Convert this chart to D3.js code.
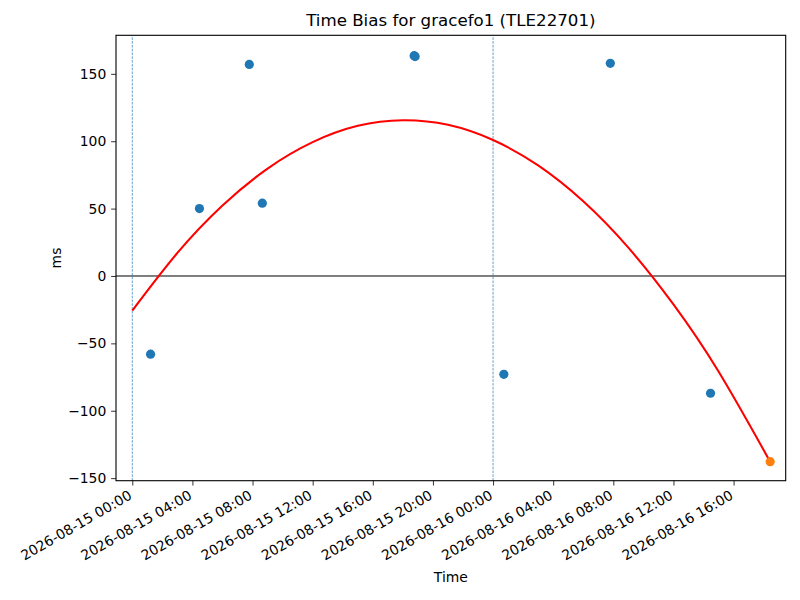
<!DOCTYPE html>
<html>
<head>
<meta charset="utf-8">
<script src="https://cdn.jsdelivr.net/npm/d3@7"></script>
<style>
  body { margin: 0; background: #fff; }
  svg, svg text { font-family: "DejaVu Sans", sans-serif; }
</style>
</head>
<body>
<div id="chart"></div>
<script>
// observed time bias samples (blue)
let obsTimes = ["2026-08-15 01:13", "2026-08-15 04:28", "2026-08-15 07:47", "2026-08-15 08:39",
    "2026-08-15 18:45", "2026-08-15 18:49", "2026-08-16 00:43", "2026-08-16 07:48", "2026-08-16 14:28"];
let obsValues = [-58, 50, 157, 54, 163.5, 162.8, -73, 157.8, -87];

// latest point (orange)
let lastTime = ["2026-08-16 18:26"];
let lastValue = [-137.8];

// fitted curve (red)
let fitTimes = ["2026-08-15 00:00", "2026-08-15 03:00", "2026-08-15 06:00", "2026-08-15 09:00",
    "2026-08-15 12:00", "2026-08-15 15:00", "2026-08-15 18:00", "2026-08-15 21:00",
    "2026-08-16 00:00", "2026-08-16 03:00", "2026-08-16 06:00", "2026-08-16 09:00",
    "2026-08-16 12:00", "2026-08-16 15:00", "2026-08-16 18:26"];
let fitValues = [-25.7, 17.1, 52.3, 79.7, 99.3, 111.4, 115.6, 112.2, 100.9, 82, 55.4, 21, -21.1, -70.9, -137.8];

// day boundaries (dashed)
let dayLines = ["2026-08-15 00:00", "2026-08-16 00:00"];

let xTicks = ["2026-08-15 00:00", "2026-08-15 04:00", "2026-08-15 08:00", "2026-08-15 12:00",
    "2026-08-15 16:00", "2026-08-15 20:00", "2026-08-16 00:00", "2026-08-16 04:00",
    "2026-08-16 08:00", "2026-08-16 12:00", "2026-08-16 16:00"];
let yTicks = [-150, -100, -50, 0, 50, 100, 150];

let width = 800;
let height = 600;
let margin = { left: 116, right: 14.3, top: 35.3, bottom: 119.3 };
let tickLen = 4.86;
let font = "DejaVu Sans, sans-serif";

let parseT = d3.utcParse("%Y-%m-%d %H:%M");
let fmtT = d3.utcFormat("%Y-%m-%d %H:%M");

let svg = d3.select("#chart").append("svg")
    .attr("width", width).attr("height", height);

let x = d3.scaleUtc()
    .domain([parseT("2026-08-14 22:55"), parseT("2026-08-16 19:28")])
    .range([margin.left, width - margin.right]);
let y = d3.scaleLinear()
    .domain([-151.9, 178.6])
    .range([height - margin.bottom, margin.top]);

let plot = svg.append("g");

// zero line
plot.append("line")
    .attr("x1", x.range()[0]).attr("x2", x.range()[1])
    .attr("y1", y(0)).attr("y2", y(0))
    .attr("stroke", "#000").attr("stroke-width", 1);

// dashed day lines
plot.selectAll(".day-line").data(dayLines).join("line")
    .attr("class", "day-line")
    .attr("x1", d => x(parseT(d))).attr("x2", d => x(parseT(d)))
    .attr("y1", y.range()[0]).attr("y2", y.range()[1])
    .attr("stroke", "#1f77b4").attr("stroke-width", 0.7)
    .attr("stroke-dasharray", "2.6,1.2");

// fitted curve
let fitData = fitTimes.map((t, i) => [parseT(t), fitValues[i]]);
plot.append("path")
    .datum(fitData)
    .attr("fill", "none")
    .attr("stroke", "#ff0000")
    .attr("stroke-width", 2.08)
    .attr("d", d3.line().x(d => x(d[0])).y(d => y(d[1])).curve(d3.curveNatural));

// points
plot.selectAll(".obs").data(obsTimes).join("circle")
    .attr("class", "obs")
    .attr("cx", d => x(parseT(d)))
    .attr("cy", (d, i) => y(obsValues[i]))
    .attr("r", 4.6)
    .attr("fill", "#1f77b4");

plot.selectAll(".last").data(lastTime).join("circle")
    .attr("class", "last")
    .attr("cx", d => x(parseT(d)))
    .attr("cy", (d, i) => y(lastValue[i]))
    .attr("r", 4.6)
    .attr("fill", "#ff7f0e");

// axes
let xAxis = svg.append("g")
    .attr("transform", `translate(0,${height - margin.bottom})`)
    .call(d3.axisBottom(x).tickValues(xTicks.map(parseT)).tickSize(tickLen).tickFormat(fmtT))
    .attr("font-family", font).attr("font-size", "13.9px");
xAxis.select(".domain").remove();
xAxis.selectAll(".tick line").attr("stroke", "#000").attr("stroke-width", 0.8);
xAxis.selectAll(".tick text")
    .attr("fill", "#000")
    .attr("text-anchor", "end")
    .attr("y", 0).attr("dy", 0)
    .attr("transform", "translate(0,17.5) rotate(-30)");

let yAxis = svg.append("g")
    .attr("transform", `translate(${margin.left},0)`)
    .call(d3.axisLeft(y).tickValues(yTicks).tickSize(tickLen).tickPadding(4.86)
        .tickFormat(d => d < 0 ? "\u2212" + Math.abs(d) : d))
    .attr("font-family", font).attr("font-size", "13.9px");
yAxis.select(".domain").remove();
yAxis.selectAll(".tick line").attr("stroke", "#000").attr("stroke-width", 0.8);
yAxis.selectAll(".tick text").attr("fill", "#000");

// frame
svg.append("rect")
    .attr("x", margin.left).attr("y", margin.top)
    .attr("width", width - margin.left - margin.right)
    .attr("height", height - margin.top - margin.bottom)
    .attr("fill", "none").attr("stroke", "#000").attr("stroke-width", 1.1);

// labels
let cx = (margin.left + width - margin.right) / 2;
svg.append("text")
    .attr("x", cx).attr("y", 26)
    .attr("text-anchor", "middle")
    .attr("font-size", "16.67px")
    .text("Time Bias for gracefo1 (TLE22701)");

svg.append("text")
    .attr("x", cx).attr("y", 582)
    .attr("text-anchor", "middle")
    .attr("font-size", "13.9px")
    .text("Time");

svg.append("text")
    .attr("transform", `translate(61,${(margin.top + height - margin.bottom) / 2}) rotate(-90)`)
    .attr("text-anchor", "middle")
    .attr("font-size", "13.9px")
    .text("ms");
</script>
</body>
</html>
